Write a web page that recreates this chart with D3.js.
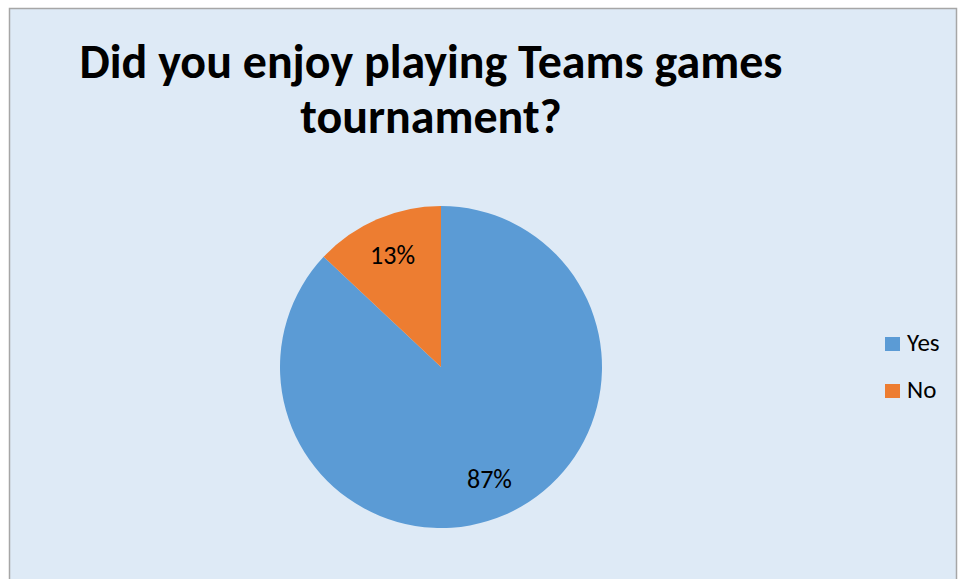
<!DOCTYPE html>
<html><head><meta charset="utf-8">
<script src="https://cdn.jsdelivr.net/npm/d3@7"></script>
<style>body{margin:0;background:#fff;}svg{display:block;}</style>
</head><body>
<svg id="c" width="958" height="579"></svg>
<script>
const categories = ["Yes", "No"];
const values = [87, 13];
const labels = ["87%", "13%"];
const titleLines = ["Did you enjoy playing Teams games", "tournament?"];
const colors = ["#5B9BD5", "#ED7D31"];

const svg = d3.select("#c");
const font = "Calibri, Carlito, 'Liberation Sans', Arial, sans-serif";

svg.append("rect").attr("x", 9.5).attr("y", 8.5).attr("width", 947).attr("height", 580)
  .attr("fill", "#DEEAF6").attr("stroke", "#A6A6A6").attr("stroke-width", 1.5);

const t1 = svg.append("text").attr("x", 431).attr("y", 78).attr("text-anchor", "middle")
  .attr("font-family", font).attr("font-weight", "bold").attr("font-size", 40).attr("fill", "#000")
  .text(titleLines[0]);
const w = t1.node().getComputedTextLength();
const fs = 40 * 703 / w;
t1.attr("font-size", fs);
svg.append("text").attr("x", 431).attr("y", 133).attr("text-anchor", "middle")
  .attr("font-family", font).attr("font-weight", "bold").attr("font-size", fs).attr("fill", "#000")
  .text(titleLines[1]);

const cx = 441, cy = 367, r = 161;
const pie = d3.pie().sort(null).value(d => d)(values);
const arc = d3.arc().innerRadius(0).outerRadius(r);
const labelArc = d3.arc().innerRadius(122).outerRadius(122);
const color = d3.scaleOrdinal().domain(categories).range(colors);

const g = svg.append("g").attr("transform", `translate(${cx},${cy})`);
g.selectAll("path").data(pie).join("path")
  .attr("d", arc).attr("fill", (d, i) => color(categories[i]));
g.selectAll("text").data(pie).join("text")
  .attr("transform", d => `translate(${labelArc.centroid(d)})`)
  .attr("text-anchor", "middle").attr("dy", "0.33em")
  .attr("font-family", font).attr("font-size", 26).attr("fill", "#000")
  .text((d, i) => labels[i]);

const lg = svg.append("g");
categories.forEach((c, i) => {
  const y = 344 + i * 47;
  lg.append("rect").attr("x", 885).attr("y", y - 7).attr("width", 15).attr("height", 14).attr("fill", color(c));
  lg.append("text").attr("x", 907).attr("y", y + 7)
    .attr("font-family", font).attr("font-size", 25).attr("fill", "#000").text(c);
});
</script>
</body></html>
